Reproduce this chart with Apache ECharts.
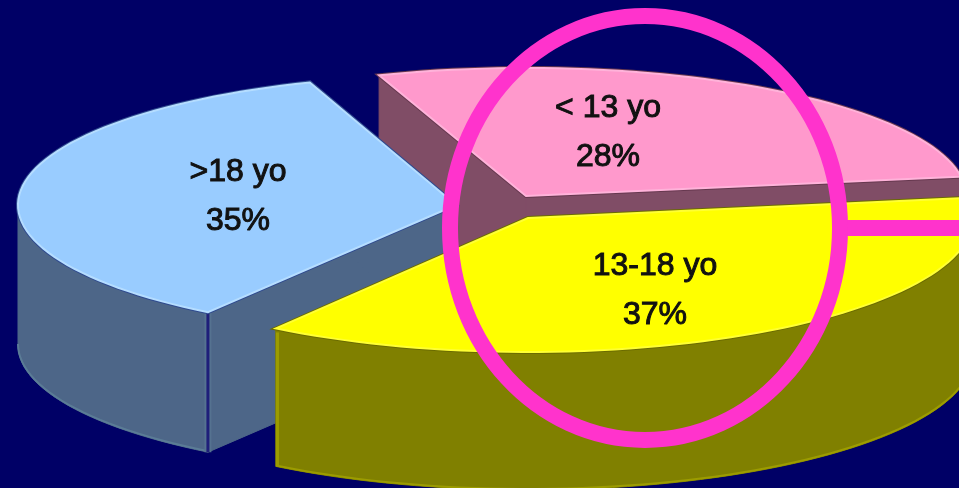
<!DOCTYPE html>
<html><head><meta charset="utf-8">
<style>html,body{margin:0;padding:0;background:#000066}#c{width:959px;height:488px}</style>
<script src="https://cdn.jsdelivr.net/npm/echarts@6/dist/echarts.min.js"></script>
</head><body><div id="c"></div>
<script>
// Data
const categories = ['< 13 yo', '>18 yo', '13-18 yo'];
const values = [28, 35, 37];
const tickOrder = [0, 2, 1]; // clockwise order round the pie (pink, yellow, blue)

// Styles & layout of the tilted, exploded pie
const topColors = ['#FF99CC', '#99CCFF', '#FFFF00'];
const wallColors = ['#804D66', '#4D6688', '#808000'];
const edgeColors = ['#FFB3DA', '#B5DDFF', '#FFFF33'];
const darkEdges = ['#66384F', '#2F4A8F', '#6B6B00'];
const rimColors = ['#804D66', '#5B7C96', '#9C9C00'];
const apexes = [[526, 196], [456, 205], [528, 218]];
const radiiX = [440, 438, 445];
const radiiY = [128, 130, 134];
const depths = [135, 140, 138];
const labelAt = [[608, 133], [238, 197], [655, 291]];
const startDeg = -19.5;

const total = values.reduce((a, b) => a + b, 0);
const spans = {};
let run = startDeg;
tickOrder.forEach(i => { spans[i] = [run, run + values[i] / total * 360]; run = spans[i][1]; });

function pt(i, deg, dy) {
  const r = deg * Math.PI / 180;
  return [apexes[i][0] + radiiX[i] * Math.sin(r), apexes[i][1] - radiiY[i] * Math.cos(r) + (dy || 0)];
}
function arc(i, a, b, dy) {
  const out = [], n = Math.max(2, Math.ceil(Math.abs(b - a) / 2));
  for (let k = 0; k <= n; k++) out.push(pt(i, a + (b - a) * k / n, dy));
  return out;
}
function poly(points, fill, stroke, lw) {
  return { type: 'polygon', shape: { points }, style: { fill, stroke: stroke || fill, lineWidth: lw || 1 } };
}
function renderItem(params, api) {
  const i = api.value(0);
  const [a, b] = spans[i];
  const h = depths[i], A = apexes[i], kids = [];
  const wall = wallColors[i];
  // cut faces
  [a, b].forEach(d => {
    const e = pt(i, d), f = pt(i, d, h);
    kids.push(poly([A, e, f, [A[0], A[1] + h]], wall));
  });
  // outer rim, front half only
  const s = Math.max(a, 90), t = Math.min(b, 270);
  if (t > s) {
    kids.push(poly(arc(i, s, t, 0).concat(arc(i, t, s, h)), wall));
    kids.push({ type: 'polyline', shape: { points: arc(i, s, t, h - 1) }, style: { fill: 'none', stroke: rimColors[i], lineWidth: 2 } });
  }
  // vertical seam on the blue slice; light left edge on the yellow slice
  if (i === 1) {
    const e = pt(i, a), f = pt(i, a, h);
    kids.push({ type: 'line', shape: { x1: e[0], y1: e[1], x2: f[0], y2: f[1] }, style: { stroke: '#557290', lineWidth: 7 } });
    kids.push({ type: 'line', shape: { x1: e[0], y1: e[1], x2: f[0], y2: f[1] }, style: { stroke: '#1F1F7A', lineWidth: 3 } });
  }
  if (i === 2) {
    const e = pt(i, b), f = pt(i, b, h);
    kids.push({ type: 'line', shape: { x1: e[0] + 1.5, y1: e[1] + 4, x2: f[0] + 1.5, y2: f[1] }, style: { stroke: rimColors[i], lineWidth: 3 } });
  }
  // top face
  kids.push(poly([A].concat(arc(i, a, b, 0)), darkEdges[i], darkEdges[i], 4));
  kids.push(poly([A].concat(arc(i, a, b, 0)), topColors[i], edgeColors[i], 2));
  // label
  kids.push({
    type: 'text', z2: 10,
    style: {
      text: categories[i] + '\n' + values[i] + '%',
      x: labelAt[i][0], y: labelAt[i][1], align: 'center', verticalAlign: 'middle',
      font: '32px "Liberation Sans", Arial, sans-serif', lineHeight: 49,
      fill: '#111111', stroke: '#111111', lineWidth: 1,
      shadowColor: edgeColors[i], shadowBlur: 3
    }
  });
  return { type: 'group', children: kids };
}

const chart = echarts.init(document.getElementById('c'), null, { renderer: 'canvas' });
chart.setOption({
  backgroundColor: '#000066',
  animation: false,
  series: [{
    type: 'custom', coordinateSystem: 'none', silent: true,
    renderItem,
    data: categories.map((c, i) => ({ name: c, value: [i, values[i]] }))
  }],
  graphic: [
    { type: 'line', z: 100, shape: { x1: 840, y1: 228, x2: 959, y2: 228 }, style: { stroke: '#FF33CC', lineWidth: 16 } },
    { type: 'ellipse', z: 101, shape: { cx: 645, cy: 228, rx: 195, ry: 212 }, style: { fill: 'none', stroke: '#FF33CC', lineWidth: 16 } }
  ]
});
</script></body></html>
